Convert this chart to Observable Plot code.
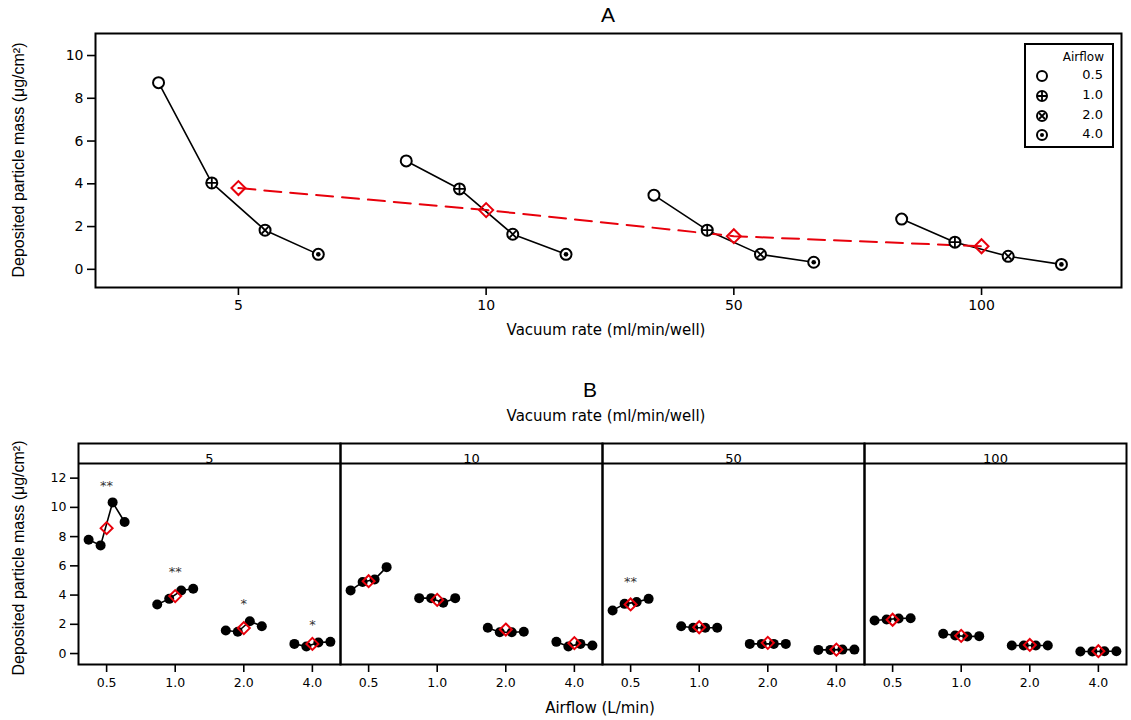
<!DOCTYPE html>
<html>
<head>
<meta charset="utf-8">
<script src="https://cdn.jsdelivr.net/npm/d3@7"></script>
<script src="https://cdn.jsdelivr.net/npm/@observablehq/plot@0.6"></script>
<style>
  body { margin: 0; background: #fff; }
  #wrap { position: relative; width: 1131px; height: 720px; overflow: hidden; background: #fff;
          font-family: "Liberation Sans", Arial, sans-serif; color: #000; }
  .abs { position: absolute; white-space: nowrap; }
  .ttl { font-size: 21px; transform: translate(-50%, -50%); }
  .xl { font-family: "DejaVu Sans", sans-serif; font-size: 15px; transform: translate(-50%, -50%); }
  .yl { font-size: 16px; transform: translate(-50%, -50%) rotate(-90deg); }
  #legend { position: absolute; left: 1024px; top: 43px; width: 86px; height: 101px; border: 2px solid #000;
            font-family: "DejaVu Sans", sans-serif; background: #fff; }
</style>
</head>
<body>
<div id="wrap">
  <div id="chartA" class="abs" style="left:0;top:0"></div>
  <div id="chartB" class="abs" style="left:0;top:360px"></div>
  <div class="abs ttl" style="left:608px;top:15px">A</div>
  <div class="abs xl" style="left:606px;top:330px">Vacuum rate (ml/min/well)</div>
  <div class="abs yl" style="left:19px;top:160px">Deposited particle mass (μg/cm²)</div>
  <div class="abs ttl" style="left:590px;top:390px">B</div>
  <div class="abs xl" style="left:606px;top:416px">Vacuum rate (ml/min/well)</div>
  <div class="abs yl" style="left:19px;top:558px">Deposited particle mass (μg/cm²)</div>
  <div class="abs xl" style="left:600px;top:708px">Airflow (L/min)</div>
  <div id="legend"></div>
</div>
<script>
// ---------- data ----------
const vacuumRates = ["5", "10", "50", "100"];
const airflows = ["0.5", "1.0", "2.0", "4.0"];

// Panel A: mean deposited mass per vacuum rate (rows) and airflow (columns)
const massA_vac5   = [8.73, 4.04, 1.83, 0.70];
const massA_vac10  = [5.07, 3.76, 1.64, 0.70];
const massA_vac50  = [3.47, 1.83, 0.70, 0.33];
const massA_vac100 = [2.35, 1.27, 0.61, 0.23];
const vacuumMeansA = [3.80, 2.77, 1.55, 1.08];

// Panel B: replicate measurements (4 per airflow) per vacuum rate
const repsB_vac5   = [[7.79, 7.40, 10.34, 9.00], [3.36, 3.74, 4.31, 4.43], [1.58, 1.49, 2.21, 1.87], [0.66, 0.48, 0.75, 0.80]];
const repsB_vac10  = [[4.32, 4.89, 5.07, 5.91], [3.79, 3.79, 3.47, 3.79], [1.76, 1.46, 1.46, 1.49], [0.80, 0.48, 0.66, 0.55]];
const repsB_vac50  = [[2.95, 3.40, 3.52, 3.74], [1.87, 1.76, 1.76, 1.76], [0.66, 0.66, 0.66, 0.66], [0.25, 0.25, 0.27, 0.27]];
const repsB_vac100 = [[2.26, 2.33, 2.40, 2.42], [1.35, 1.23, 1.16, 1.19], [0.55, 0.55, 0.55, 0.55], [0.14, 0.14, 0.16, 0.16]];
// Panel B: means (red diamonds)
const meansB_vac5   = [8.58, 3.93, 1.74, 0.66];
const meansB_vac10  = [4.95, 3.67, 1.64, 0.71];
const meansB_vac50  = [3.36, 1.80, 0.73, 0.27];
const meansB_vac100 = [2.31, 1.21, 0.59, 0.16];

// significance marks
const sigVacuum  = ["5", "5", "5", "5", "50"];
const sigAirflow = ["0.5", "1.0", "2.0", "4.0", "0.5"];
const sigMark    = ["**", "**", "*", "*", "**"];

// ---------- build tables ----------
const massA = [massA_vac5, massA_vac10, massA_vac50, massA_vac100];
const repsB = [repsB_vac5, repsB_vac10, repsB_vac50, repsB_vac100];
const meansB = [meansB_vac5, meansB_vac10, meansB_vac50, meansB_vac100];

const airOffset = 0.215;   // dodge of airflow groups within a vacuum rate (panel A)
const repOffset = 0.175;   // dodge of replicates within an airflow (panel B)

const dataA = [];
vacuumRates.forEach((v, i) => massA[i].forEach((m, j) =>
  dataA.push({vac: v, ai: j, x: i + (j - 1.5) * airOffset, mass: m})));
const meanA = vacuumRates.map((v, i) => ({vac: v, x: i, mass: vacuumMeansA[i]}));

const dataB = [];
vacuumRates.forEach((v, i) => repsB[i].forEach((reps, j) => reps.forEach((m, k) =>
  dataB.push({vac: v, grp: v + "|" + j, x: j + (k - 1.5) * repOffset, mass: m}))));
const meanB = [];
vacuumRates.forEach((v, i) => meansB[i].forEach((m, j) => meanB.push({vac: v, x: j, mass: m})));
const sigB = sigMark.map((s, n) => {
  const i = vacuumRates.indexOf(sigVacuum[n]);
  const j = airflows.indexOf(sigAirflow[n]);
  return {vac: sigVacuum[n], x: j, mass: d3.max(repsB[i][j]), mark: s};
});

const RED = "#e8000b";

// ---------- Panel A ----------
const plotA = Plot.plot({
  width: 1131, height: 320,
  marginTop: 33, marginBottom: 33, marginLeft: 95, marginRight: 10,
  style: {fontFamily: "DejaVu Sans, sans-serif", fontSize: "14px", color: "#000", background: "transparent"},
  x: {domain: [-0.577, 3.565], ticks: [0, 1, 2, 3], tickFormat: i => vacuumRates[i], tickSize: 8, tickPadding: 5, label: null},
  y: {domain: [-0.85, 11.03], ticks: [0, 2, 4, 6, 8, 10], tickSize: 8, tickPadding: 4, label: null},
  marks: [
    Plot.frame({stroke: "#000", strokeWidth: 2}),
    Plot.line(dataA, {x: "x", y: "mass", z: "vac", stroke: "#000", strokeWidth: 1.6}),
    Plot.line(meanA, {x: "x", y: "mass", stroke: RED, strokeWidth: 2, strokeDasharray: "17,9"}),
    Plot.dot(dataA, {x: "x", y: "mass", r: 5.5, fill: "#fff", stroke: "#000", strokeWidth: 2}),
    Plot.dot(dataA.filter(d => d.ai === 1), {x: "x", y: "mass", symbol: "plus", r: 3.9, stroke: "#000", strokeWidth: 1.8}),
    Plot.dot(dataA.filter(d => d.ai === 2), {x: "x", y: "mass", symbol: "times", r: 3.1, stroke: "#000", strokeWidth: 1.8}),
    Plot.dot(dataA.filter(d => d.ai === 3), {x: "x", y: "mass", r: 2.3, fill: "#000"}),
    Plot.dot(meanA, {x: "x", y: "mass", symbol: "diamond2", r: 6.3, stroke: RED, strokeWidth: 2, fill: "none"})
  ]
});
document.getElementById("chartA").appendChild(plotA);

// ---------- Panel B ----------
const plotB = Plot.plot({
  width: 1131, height: 360,
  marginTop: 83, marginBottom: 56, marginLeft: 77, marginRight: 4,
  style: {fontFamily: "DejaVu Sans, sans-serif", fontSize: "12.5px", color: "#000", background: "transparent"},
  fx: {domain: vacuumRates, padding: 0, axis: null},
  x: {domain: [-0.41, 3.41], ticks: [0, 1, 2, 3], tickFormat: i => airflows[i], tickSize: 8, tickPadding: 6, label: null},
  y: {domain: [-0.75, 14.37], ticks: [0, 2, 4, 6, 8, 10, 12], tickSize: 8, tickPadding: 4, label: null},
  marks: [
    Plot.frame({stroke: "#000", strokeWidth: 2}),
    Plot.ruleY([13.0], {stroke: "#000", strokeWidth: 2}),
    Plot.text(vacuumRates, {fx: d => d, frameAnchor: "top", dy: 10, text: d => d, fontSize: 13}),
    Plot.line(dataB, {fx: "vac", x: "x", y: "mass", z: "grp", stroke: "#000", strokeWidth: 1.6}),
    Plot.dot(dataB, {fx: "vac", x: "x", y: "mass", r: 5, fill: "#000"}),
    Plot.dot(meanB, {fx: "vac", x: "x", y: "mass", symbol: "diamond2", r: 5.4, stroke: RED, strokeWidth: 2, fill: "none"}),
    Plot.text(sigB, {fx: "vac", x: "x", y: "mass", text: "mark", dy: -17, fontSize: 13, fill: "#333"})
  ]
});
document.getElementById("chartB").appendChild(plotB);

// thicker axis ticks
[plotA, plotB].forEach(svg => d3.select(svg).selectAll('g[aria-label$="axis tick"]').attr("stroke-width", 1.6));

// ---------- Legend (panel A) ----------
const leg = d3.select("#legend");
leg.append("div").text("Airflow")
  .style("position", "absolute").style("right", "8px").style("top", "5px").style("font-size", "12px");
const rowY = [31, 51, 71, 90];
airflows.forEach((a, j) => {
  const s = leg.append("svg").attr("width", 16).attr("height", 16)
    .style("position", "absolute").style("left", "8px").style("top", (rowY[j] - 8) + "px");
  const g = s.append("g").attr("transform", "translate(8,8)").attr("stroke", "#000").attr("stroke-width", 2);
  g.append("circle").attr("r", 5).attr("fill", "#fff");
  if (j === 1) g.append("path").attr("d", "M-4,0H4M0,-4V4").attr("stroke-width", 1.8);
  if (j === 2) g.append("path").attr("d", "M-3,-3L3,3M-3,3L3,-3").attr("stroke-width", 1.8);
  if (j === 3) g.append("circle").attr("r", 2).attr("fill", "#000").attr("stroke", "none");
  leg.append("div").text(a)
    .style("position", "absolute").style("right", "9px").style("top", (rowY[j] - 9) + "px").style("font-size", "13px");
});
</script>
</body>
</html>
